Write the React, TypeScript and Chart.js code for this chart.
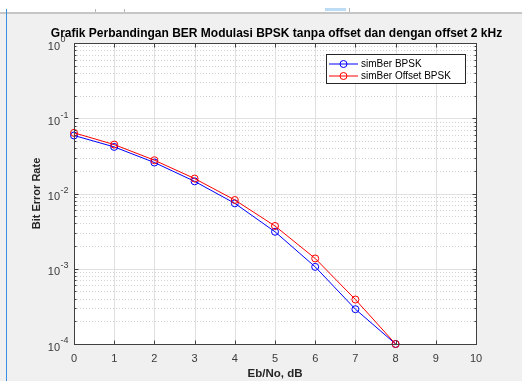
import React, { useEffect, useRef } from 'react';
import { Chart, registerables } from 'chart.js';

Chart.register(...registerables);

const ebNo = [0, 1, 2, 3, 4, 5, 6, 7, 8];
const berBpsk = [0.059, 0.0416, 0.0258, 0.0145, 0.0074, 0.0031, 0.00106, 0.00029, 0.0001];
const berOffset = [0.064, 0.0447, 0.0277, 0.0158, 0.0082, 0.0037, 0.00137, 0.00039, 0.0001];
const xTicks = [0, 1, 2, 3, 4, 5, 6, 7, 8, 9, 10];
const yDecades = [1, 0.1, 0.01, 0.001, 0.0001];
const yExponents = ['0', '-1', '-2', '-3', '-4'];
const minorMultipliers = [2, 3, 4, 5, 6, 7, 8, 9];
const seriesNames = ['simBer BPSK', 'simBer Offset BPSK'];
const seriesColors = ['#0000ff', '#ff0000'];
const titleText = 'Grafik Perbandingan BER Modulasi BPSK tanpa offset dan dengan offset 2 kHz';
const xTitle = 'Eb/No, dB';
const yTitle = 'Bit Error Rate';

const FONT = "'Liberation Sans', Arial, Helvetica, sans-serif";

const framePlugin = {
  id: 'matlabFrame',
  beforeDraw(chart: any) {
    const { ctx, width, height, chartArea: a } = chart;
    ctx.save();
    ctx.fillStyle = '#f0f0f0';
    ctx.fillRect(0, 0, width, height);
    ctx.fillStyle = '#ffffff';
    ctx.fillRect(0, 0, width, 12);
    ctx.fillStyle = '#c6c6c6';
    ctx.fillRect(0, 12, width, 2);
    ctx.fillStyle = '#3a8fe0';
    ctx.fillRect(6, 9, 1, height - 9);
    ctx.fillStyle = '#b8b8b8';
    ctx.fillRect(95, 9, 1, 3);
    ctx.fillRect(124, 9, 1, 3);
    ctx.fillRect(349, 8, 1, 4);
    ctx.fillStyle = '#bcdcf5';
    ctx.fillRect(325, 8, 21, 3);
    ctx.fillStyle = '#ffffff';
    ctx.fillRect(a.left, a.top, a.right - a.left, a.bottom - a.top);
    ctx.restore();
  },
  beforeDatasetsDraw(chart: any) {
    const { ctx, chartArea: a, scales } = chart;
    const xs = scales.x;
    const ys = scales.y;
    ctx.save();
    ctx.lineWidth = 1;
    ctx.strokeStyle = '#d2d2d2';
    ctx.setLineDash([1, 2]);
    yDecades.slice(1).forEach((d) => {
      minorMultipliers.forEach((m) => {
        const py = Math.round(ys.getPixelForValue(m * d)) + 0.5;
        ctx.beginPath();
        ctx.moveTo(a.left, py);
        ctx.lineTo(a.right, py);
        ctx.stroke();
      });
    });
    ctx.setLineDash([]);
    ctx.strokeStyle = '#e0e0e0';
    yDecades.forEach((d) => {
      const py = Math.round(ys.getPixelForValue(d)) + 0.5;
      ctx.beginPath();
      ctx.moveTo(a.left, py);
      ctx.lineTo(a.right, py);
      ctx.stroke();
    });
    xTicks.forEach((t) => {
      const px = Math.round(xs.getPixelForValue(t)) + 0.5;
      ctx.beginPath();
      ctx.moveTo(px, a.top);
      ctx.lineTo(px, a.bottom);
      ctx.stroke();
    });
    ctx.restore();
  },
  afterDraw(chart: any) {
    const { ctx, chartArea: a, scales } = chart;
    const xs = scales.x;
    const ys = scales.y;
    ctx.save();
    const L = Math.round(a.left) + 0.5;
    const R = Math.round(a.right) + 0.5;
    const T = Math.round(a.top) + 0.5;
    const B = Math.round(a.bottom) + 0.5;
    ctx.strokeStyle = '#404040';
    ctx.lineWidth = 1;
    ctx.strokeRect(L, T, R - L, B - T);
    ctx.beginPath();
    xTicks.forEach((t) => {
      const px = Math.round(xs.getPixelForValue(t)) + 0.5;
      ctx.moveTo(px, B);
      ctx.lineTo(px, B - 4);
      ctx.moveTo(px, T);
      ctx.lineTo(px, T + 4);
    });
    yDecades.forEach((d) => {
      const py = Math.round(ys.getPixelForValue(d)) + 0.5;
      ctx.moveTo(L, py);
      ctx.lineTo(L + 4, py);
      ctx.moveTo(R, py);
      ctx.lineTo(R - 4, py);
    });
    yDecades.slice(1).forEach((d) => {
      minorMultipliers.forEach((m) => {
        const py = Math.round(ys.getPixelForValue(m * d)) + 0.5;
        ctx.moveTo(L, py);
        ctx.lineTo(L + 2, py);
        ctx.moveTo(R, py);
        ctx.lineTo(R - 2, py);
      });
    });
    ctx.stroke();

    ctx.fillStyle = '#3a3a3a';
    yDecades.forEach((d, i) => {
      const py = ys.getPixelForValue(d);
      ctx.font = `11px ${FONT}`;
      ctx.textAlign = 'right';
      ctx.textBaseline = 'middle';
      ctx.fillText('10', 60, py + 3.5);
      ctx.font = `9px ${FONT}`;
      ctx.textAlign = 'left';
      ctx.fillText(yExponents[i], 60.5, py - 3);
    });

    ctx.fillStyle = '#000000';
    ctx.font = `bold 12px ${FONT}`;
    ctx.textAlign = 'center';
    ctx.textBaseline = 'middle';
    ctx.fillText(titleText, (a.left + a.right) / 2 + 1.5, 34);

    const lx = 326.5, ly = 54.5, lw = 139, lh = 29;
    ctx.fillStyle = '#ffffff';
    ctx.fillRect(lx, ly, lw, lh);
    ctx.strokeStyle = '#262626';
    ctx.strokeRect(lx, ly, lw, lh);
    seriesNames.forEach((name, i) => {
      const cy = 64 + i * 12;
      ctx.strokeStyle = seriesColors[i];
      ctx.lineWidth = 1;
      ctx.beginPath();
      ctx.moveTo(329, cy);
      ctx.lineTo(358, cy);
      ctx.stroke();
      ctx.beginPath();
      ctx.arc(343.5, cy, 3.5, 0, Math.PI * 2);
      ctx.stroke();
      ctx.fillStyle = '#000000';
      ctx.font = `10px ${FONT}`;
      ctx.textAlign = 'left';
      ctx.textBaseline = 'middle';
      ctx.fillText(name, 361, cy + 0.5);
    });
    ctx.restore();
  },
};

export default function App() {
  const canvasRef = useRef<HTMLCanvasElement | null>(null);

  useEffect(() => {
    const canvas = canvasRef.current;
    if (!canvas) return;
    const mk = (vals: number[], i: number, order: number) => ({
      label: seriesNames[i],
      data: ebNo.map((x, k) => ({ x, y: vals[k] })),
      borderColor: seriesColors[i],
      backgroundColor: 'rgba(0,0,0,0)',
      borderWidth: 1,
      pointRadius: 3.5,
      pointBorderWidth: 1,
      pointBorderColor: seriesColors[i],
      pointBackgroundColor: 'rgba(0,0,0,0)',
      pointStyle: 'circle',
      tension: 0,
      clip: false as any,
      order,
    });
    const chart = new Chart(canvas, {
      type: 'line',
      data: {
        datasets: [mk(berBpsk, 0, 1), mk(berOffset, 1, 0)],
      },
      plugins: [framePlugin],
      options: {
        responsive: false,
        animation: false,
        devicePixelRatio: 1,
        layout: { padding: { left: 0, right: 46, top: 43, bottom: 0 } },
        plugins: {
          legend: { display: false },
          title: { display: false },
          tooltip: { enabled: false },
        },
        scales: {
          x: {
            type: 'linear',
            min: 0,
            max: 10,
            afterBuildTicks: (s: any) => {
              s.ticks = xTicks.map((v) => ({ value: v }));
            },
            ticks: {
              color: '#3a3a3a',
              font: { family: FONT, size: 11 },
              padding: 8,
              maxRotation: 0,
              autoSkip: false,
            },
            grid: { display: false, drawTicks: false },
            border: { display: false },
            title: {
              display: true,
              text: xTitle,
              color: '#262626',
              font: { family: FONT, size: 11.5, weight: 'bold' },
              padding: { top: 0, bottom: 0 },
            },
            afterFit: (s: any) => {
              s.height = 37;
            },
          },
          y: {
            type: 'logarithmic',
            min: 0.0001,
            max: 1,
            ticks: { display: false },
            grid: { display: false, drawTicks: false },
            border: { display: false },
            title: {
              display: true,
              text: yTitle,
              color: '#262626',
              font: { family: FONT, size: 11, weight: 'bold' },
              padding: { top: 30, bottom: 0 },
            },
            afterFit: (s: any) => {
              s.width = 74;
            },
          },
        },
      } as any,
    });
    return () => chart.destroy();
  }, []);

  return (
    <div style={{ position: 'absolute', left: 0, top: 0, width: 522, height: 381 }}>
      <canvas ref={canvasRef} width={522} height={381} style={{ display: 'block', width: 522, height: 381 }} />
    </div>
  );
}
